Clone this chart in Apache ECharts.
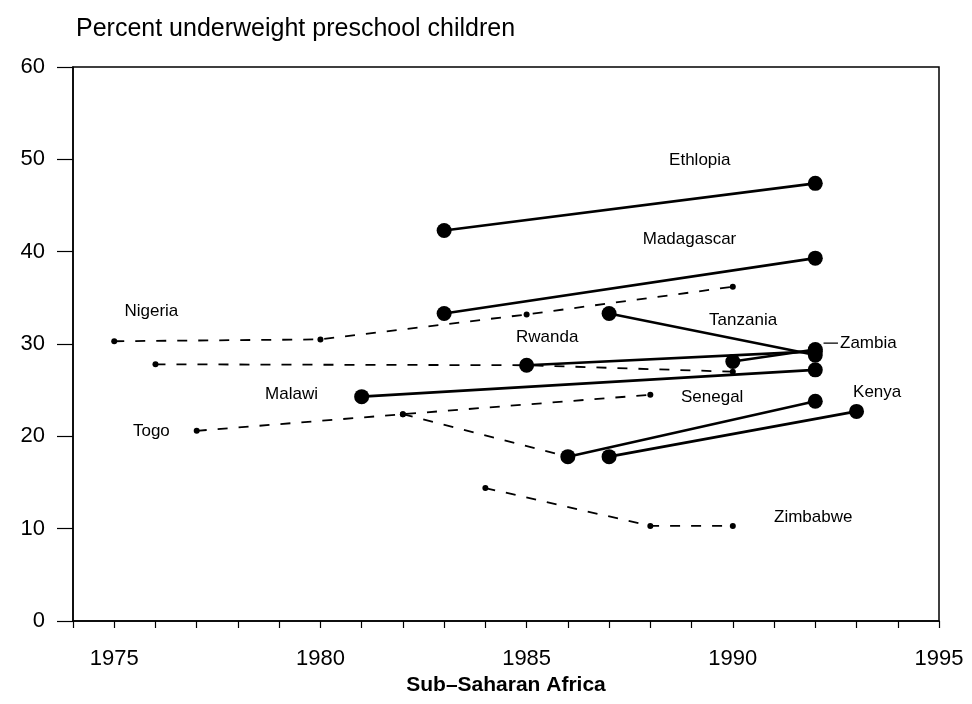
<!DOCTYPE html>
<html>
<head>
<meta charset="utf-8">
<script src="https://cdn.jsdelivr.net/npm/echarts@6/dist/echarts.min.js"></script>
<style>
  html, body { margin: 0; padding: 0; background: #fff; }
  #chart { width: 972px; height: 704px; }
</style>
</head>
<body>
<div id="chart"></div>
<script>
// solid series: [year, percent]
const ethiopia = [[1983, 42.3], [1992, 47.4]];
const madagascar = [[1983, 33.3], [1992, 39.3]];
const tanzania = [[1987, 33.3], [1992, 28.8]];
const rwanda = [[1985, 27.7], [1992, 29.2]];
const zambia = [[1990, 28.1], [1992, 29.4]];
const malawi = [[1981, 24.3], [1992, 27.2]];
const senegal = [[1986, 17.8], [1992, 23.8]];
const kenya = [[1987, 17.8], [1993, 22.7]];

// dashed series
const nigeria = [[1975, 30.3], [1980, 30.5], [1985, 33.2], [1990, 36.2]];
const rwandaEarly = [[1976, 27.8], [1985, 27.7], [1990, 27.0]];
const togo = [[1977, 20.6], [1982, 22.4], [1988, 24.5]];
const senegalEarly = [[1982, 22.4], [1986, 17.8]];
const zimbabwe = [[1984, 14.4], [1988, 10.3], [1990, 10.3]];

// country labels, anchored in data units
const labelNames = ["Ethlopia", "Madagascar", "Nigeria", "Tanzania", "Rwanda", "Malawi", "Senegal", "Kenya", "Togo", "Zimbabwe"];
const labelAt = [[1989.2, 49.9], [1988.95, 41.3], [1975.9, 33.5], [1990.25, 32.6], [1985.5, 30.7], [1979.3, 24.5], [1989.5, 24.2], [1993.5, 24.8], [1975.9, 20.5], [1991.95, 11.2]];
const zambiaLabelAt = [1992.6, 30.1];
const zambiaLeader = [[1992.2, 30.1], [1992.55, 30.1]];

const yTicks = [0, 10, 20, 30, 40, 50, 60];

var chart = echarts.init(document.getElementById("chart"));

function solid(name, data) {
  return {
    name: name, type: "line", data: data,
    symbol: "circle", symbolSize: 15,
    itemStyle: { color: "#000" },
    lineStyle: { color: "#000", width: 2.6 },
    z: 5, silent: true
  };
}
function dashed(name, data) {
  return {
    name: name, type: "line", data: data,
    symbol: "circle", symbolSize: 6,
    itemStyle: { color: "#000" },
    lineStyle: { color: "#000", width: 1.8, type: [10, 11] },
    z: 4, silent: true
  };
}

var labelData = labelNames.map(function (n, i) {
  return { value: labelAt[i], name: n };
});
labelData.push({ value: zambiaLabelAt, name: "Zambia", label: { align: "left" } });

chart.setOption({
  animation: false,
  title: {
    text: "Percent underweight preschool children",
    left: 71, top: 12,
    textStyle: { fontFamily: "Liberation Sans", fontWeight: "normal", fontSize: 25, color: "#000" }
  },
  graphic: [{
    type: "text", x: 506, top: 675,
    style: { text: "Sub\u2013Saharan Africa", font: "bold 21px 'Liberation Sans'", fill: "#000", textAlign: "center" }
  }],
  grid: { left: 73, right: 33, top: 67, bottom: 83, show: true, borderColor: "#000", borderWidth: 1.5 },
  xAxis: {
    type: "value", min: 1974, max: 1995, interval: 1,
    axisLine: { lineStyle: { color: "#000", width: 1.5 } },
    axisTick: { length: 7, lineStyle: { color: "#000", width: 1.2 } },
    splitLine: { show: false },
    axisLabel: {
      margin: 27, color: "#000", fontSize: 22, fontFamily: "Liberation Sans",
      formatter: function (v) { return v % 5 === 0 ? String(v) : ""; }
    }
  },
  yAxis: {
    type: "value", min: yTicks[0], max: yTicks[yTicks.length - 1], interval: 10,
    axisLine: { lineStyle: { color: "#000", width: 1.5 } },
    axisTick: { length: 16, lineStyle: { color: "#000", width: 1.2 } },
    splitLine: { show: false },
    axisLabel: { margin: 28, color: "#000", fontSize: 22, fontFamily: "Liberation Sans" }
  },
  series: [
    solid("Ethiopia", ethiopia),
    solid("Madagascar", madagascar),
    solid("Tanzania", tanzania),
    solid("Rwanda", rwanda),
    solid("Zambia", zambia),
    solid("Malawi", malawi),
    solid("Senegal", senegal),
    solid("Kenya", kenya),
    dashed("Nigeria", nigeria),
    dashed("Rwanda early", rwandaEarly),
    dashed("Togo", togo),
    dashed("Senegal early", senegalEarly),
    dashed("Zimbabwe", zimbabwe),
    {
      type: "line", data: zambiaLeader, symbol: "none", silent: true,
      lineStyle: { color: "#000", width: 1.2 }
    },
    {
      type: "scatter", data: labelData, symbolSize: 0, silent: true, z: 10,
      itemStyle: { opacity: 1 },
      label: {
        show: true, position: "inside", formatter: "{b}", opacity: 1,
        color: "#000", fontSize: 17, fontFamily: "Liberation Sans"
      }
    }
  ]
});
</script>
</body>
</html>
